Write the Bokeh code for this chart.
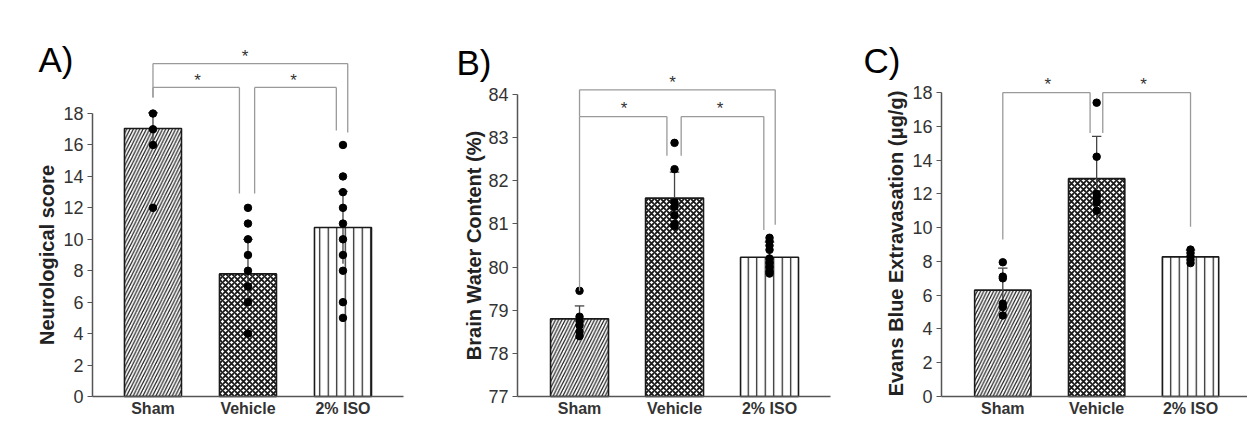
import math
from bokeh.plotting import figure
from bokeh.models import Range1d, FixedTicker
from bokeh.layouts import row
from bokeh.embed import file_html
from bokeh.resources import INLINE
from bokeh.core.properties import value

# ---------------- data ----------------
groups = ["Sham", "Vehicle", "2% ISO"]

neuro_mean = [17.05, 7.8, 10.75]
neuro_sd = [1.0, 2.2, 2.3]
neuro_sham_pts = [18, 17, 16, 12]
neuro_vehicle_pts = [12, 11, 10, 9, 8, 7, 6, 4]
neuro_iso_pts = [16, 14, 13, 12, 11, 10, 9, 8, 6, 5]
neuro_ticks = [0, 2, 4, 6, 8, 10, 12, 14, 16, 18]

bwc_mean = [78.8, 81.6, 80.23]
bwc_sd = [0.3, 0.6, 0.35]
bwc_sham_pts = [79.45, 78.85, 78.75, 78.65, 78.5, 78.4]
bwc_vehicle_pts = [82.88, 82.27, 81.5, 81.4, 81.2, 81.0, 80.95]
bwc_iso_pts = [80.68, 80.6, 80.5, 80.4, 80.2, 80.1, 80.0, 79.9, 79.85]
bwc_ticks = [77, 78, 79, 80, 81, 82, 83, 84]

eb_mean = [6.3, 12.9, 8.27]
eb_sd = [1.3, 2.5, 0.4]
eb_sham_pts = [7.95, 7.1, 7.0, 5.5, 5.3, 4.8]
eb_vehicle_pts = [17.4, 14.2, 12.0, 11.8, 11.5, 11.0]
eb_iso_pts = [8.7, 8.5, 8.3, 8.1, 7.9]
eb_ticks = [0, 2, 4, 6, 8, 10, 12, 14, 16, 18]

# significance brackets: (x_left, x_right, y_bar, y_left_end, y_right_end, star_x, star_y)
neuro_brackets = [
    (0.0, 0.91, 19.66, 19.02, 12.91, 0.47, 20.1),
    (1.07, 1.93, 19.66, 12.91, 16.92, 1.48, 20.1),
    (0.0, 2.05, 21.18, 19.02, 16.8, 0.97, 21.6),
]
bwc_brackets = [
    (0.0, 0.92, 83.49, 79.45, 82.58, 0.47, 83.67),
    (1.07, 1.94, 83.49, 82.58, 80.86, 1.48, 83.67),
    (0.0, 2.06, 84.11, 83.49, 80.98, 0.98, 84.29),
]
eb_brackets = [
    (0.0, 0.93, 18.0, 9.3, 15.6, 0.48, 18.45),
    (1.065, 2.0, 18.0, 15.6, 10.06, 1.5, 18.45),
]

SANS = "Liberation Sans, Arial, sans-serif"

bar_styles = [
    dict(hatch_pattern="/", hatch_scale=6.5, hatch_weight=1.2),
    dict(hatch_pattern="x", hatch_scale=6.0, hatch_weight=1.9),
    dict(hatch_pattern="|", hatch_scale=8.5, hatch_weight=1.2),
]


def make_panel(mean, sd, pts_list, yr, xr, axis_x, xbounds, ybounds, yticks,
               ylabel, ylabel_xy, bar_w, brackets, panel_label, label_xy, fw):
    p = figure(frame_width=fw, frame_height=432,
               min_border_left=0, min_border_right=0,
               min_border_top=0, min_border_bottom=0,
               x_range=Range1d(*xr), y_range=Range1d(*yr),
               output_backend="svg", toolbar_location=None, tools="")
    p.background_fill_color = "white"
    p.border_fill_color = "white"
    p.outline_line_color = None
    p.xgrid.visible = False
    p.ygrid.visible = False

    for i in range(3):
        p.vbar(x=[i], top=[mean[i]], bottom=ybounds[0], width=bar_w,
               fill_color="white", line_color="#1a1a1a", line_width=1.6,
               hatch_color="#1a1a1a", **bar_styles[i])
    # error bars
    lo = [m - s for m, s in zip(mean, sd)]
    hi = [m + s for m, s in zip(mean, sd)]
    xs = [0, 1, 2]
    p.segment(x0=xs, y0=lo, x1=xs, y1=hi, line_color="#444444", line_width=1.3)
    p.segment(x0=[x - 0.05 for x in xs], y0=hi, x1=[x + 0.05 for x in xs], y1=hi,
              line_color="#444444", line_width=1.3)
    # individual points
    for i, pts in enumerate(pts_list):
        p.scatter(x=[i] * len(pts), y=pts, size=7.5, color="black")
    # brackets
    for (x0, x1, yb, yl, yrr, sx, sy) in brackets:
        p.segment(x0=[x0, x0, x1], y0=[yb, yb, yb], x1=[x1, x0, x1], y1=[yb, yl, yrr],
                  line_color="#9a9a9a", line_width=1.3)
        p.text(x=[sx], y=[sy], text=["*"], text_align="center", text_baseline="middle",
               text_font_size="17px", text_color="#333333", text_font=value(SANS))

    # x axis (fixed at the bottom of the value range)
    xa = p.xaxis[0]
    xa.fixed_location = ybounds[0]
    xa.ticker = FixedTicker(ticks=[0, 1, 2])
    xa.major_label_overrides = {0: groups[0], 1: groups[1], 2: groups[2]}
    xa.bounds = xbounds
    xa.major_tick_out = 0
    xa.major_tick_in = 0
    xa.minor_tick_out = 0
    xa.minor_tick_in = 0
    xa.axis_line_color = "#555555"
    xa.axis_line_width = 1.5
    xa.major_label_text_font = SANS
    xa.major_label_text_font_style = "bold"
    xa.major_label_text_font_size = "16px"
    xa.major_label_text_color = "#333333"
    xa.major_label_standoff = 3

    # y axis (fixed at the left edge of the data area)
    ya = p.yaxis[0]
    ya.fixed_location = axis_x
    ya.ticker = FixedTicker(ticks=yticks)
    ya.bounds = ybounds
    ya.major_tick_out = 5
    ya.major_tick_in = 0
    ya.minor_tick_out = 0
    ya.minor_tick_in = 0
    ya.axis_line_color = "#555555"
    ya.axis_line_width = 1.5
    ya.major_tick_line_color = "#555555"
    ya.major_label_text_font = SANS
    ya.major_label_text_font_size = "18px"
    ya.major_label_text_color = "#333333"
    ya.major_label_standoff = 4

    # y axis title
    p.text(x=[ylabel_xy[0]], y=[ylabel_xy[1]], text=[ylabel], angle=math.pi / 2,
           text_align="center", text_baseline="middle", text_font=value(SANS),
           text_font_style="bold", text_font_size="20px", text_color="#222222")
    # panel letter
    p.text(x=[label_xy[0]], y=[label_xy[1]], text=[panel_label], text_align="left",
           text_baseline="alphabetic", text_font=value(SANS), text_font_size="35px",
           text_color="black")
    return p


pA = make_panel(neuro_mean, neuro_sd, [neuro_sham_pts, neuro_vehicle_pts, neuro_iso_pts],
                (-2.29, 25.19), (-1.605, 2.816), -0.637, (-0.637, 2.637), (0, 18), neuro_ticks,
                "Neurological score", (-1.111, 9.0), 0.6,
                neuro_brackets, "A)", (-1.205, 21.44), 420)
pB = make_panel(bwc_mean, bwc_sd, [bwc_sham_pts, bwc_vehicle_pts, bwc_iso_pts],
                (76.166, 86.18), (-1.674, 2.684), -0.653, (-0.653, 2.642), (77, 84), bwc_ticks,
                "Brain Water Content (%)", (-1.111, 80.5), 0.61,
                bwc_brackets, "B)", (-1.295, 84.74), 414)
pC = make_panel(eb_mean, eb_sd, [eb_sham_pts, eb_vehicle_pts, eb_iso_pts],
                (-2.13, 23.45), (-1.793, 2.607), -0.653, (-0.653, 2.607), (0, 18), eb_ticks,
                "Evans Blue Extravasation (\u03bcg/g)", (-1.143, 9.06), 0.6,
                eb_brackets, "C)", (-1.484, 19.89), 413)

layout = row(pA, pB, pC)
open("out.html", "w").write(file_html(layout, INLINE))
